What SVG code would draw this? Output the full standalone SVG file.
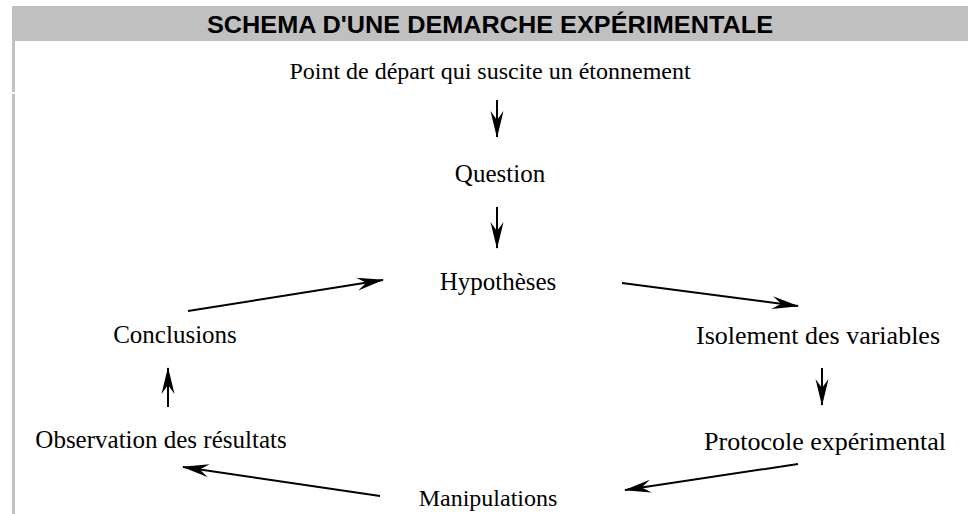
<svg xmlns="http://www.w3.org/2000/svg" width="969" height="514" viewBox="0 0 969 514">
<defs>
<style>
.t{font-family:"Liberation Serif","Times New Roman",serif;font-size:25px;fill:#000;text-anchor:middle}
.h{font-family:"Liberation Sans",Arial,sans-serif;font-size:24px;font-weight:bold;fill:#000;text-anchor:middle}
.c{stroke:#000;stroke-width:2;fill:none;marker-end:url(#ah)}
</style>
<marker id="ah" markerUnits="userSpaceOnUse" markerWidth="30" markerHeight="16" viewBox="-28 -8 30 16" refX="0" refY="0" orient="auto">
<path d="M1,0 L-26,-6.5 L-17,0 L-26,6.5 Z" fill="#000"/>
</marker>
</defs>
<rect x="12" y="6" width="956" height="35" fill="#c0c0c0"/>
<rect x="12" y="41" width="3" height="51" fill="#c0c0c0"/>
<rect x="12" y="94" width="3" height="420" fill="#c0c0c0"/>
<text class="h" x="490" y="33" textLength="566" lengthAdjust="spacingAndGlyphs">SCHEMA D'UNE DEMARCHE EXPÉRIMENTALE</text>
<g id="n-depart"><text class="t" x="490" y="79" style="font-size:24px">Point de départ qui suscite un étonnement</text></g>
<g id="n-question"><text class="t" x="500" y="182">Question</text></g>
<g id="n-hypotheses"><text class="t" x="498" y="290">Hypothèses</text></g>
<g id="n-conclusions"><text class="t" x="175" y="343">Conclusions</text></g>
<g id="n-isolement"><text class="t" x="818" y="344" style="font-size:26px">Isolement des variables</text></g>
<g id="n-observation"><text class="t" x="161" y="448">Observation des résultats</text></g>
<g id="n-protocole"><text class="t" x="825" y="450" style="font-size:26px">Protocole expérimental</text></g>
<g id="n-manipulations"><text class="t" x="488" y="506" style="font-size:24px">Manipulations</text></g>
<g id="connectors">
<line class="c" x1="497" y1="100" x2="497" y2="137"/>
<line class="c" x1="497" y1="207" x2="497" y2="248"/>
<line class="c" x1="188" y1="311" x2="383" y2="280"/>
<line class="c" x1="622" y1="283" x2="798" y2="306"/>
<line class="c" x1="822" y1="368" x2="822" y2="405"/>
<line class="c" x1="168" y1="407" x2="168" y2="368"/>
<line class="c" x1="380" y1="496" x2="183" y2="467"/>
<line class="c" x1="798" y1="464" x2="625" y2="490"/>
</g>
</svg>
